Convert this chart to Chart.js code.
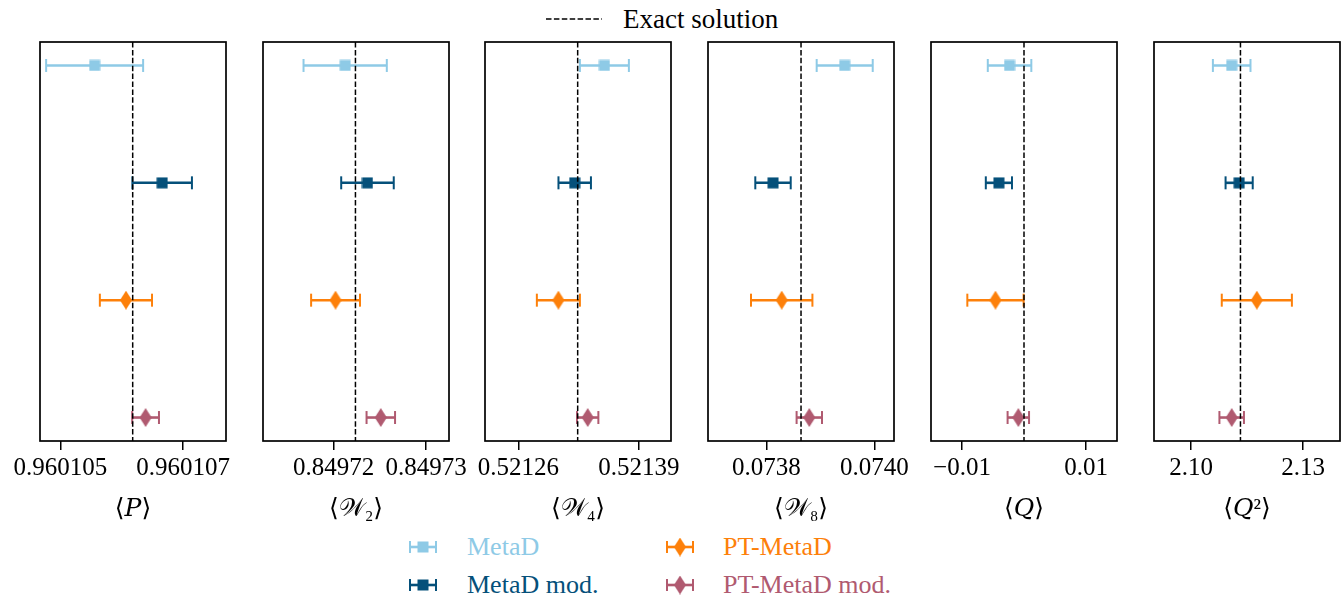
<!DOCTYPE html>
<html>
<head>
<meta charset="utf-8">
<script src="https://cdn.jsdelivr.net/npm/chart.js@4.4.0/dist/chart.umd.min.js"></script>
<style>
  html, body { margin: 0; padding: 0; background: #fff; }
  body { width: 1343px; height: 595px; position: relative; overflow: hidden; font-family: 'Liberation Serif', 'DejaVu Serif', serif; }
  .panel { position: absolute; top: 0; }
  .leg { position: absolute; height: 30px; line-height: 30px; font-size: 26px; white-space: nowrap; }
  .sym { position: absolute; }
</style>
</head>
<body>
<canvas id="exactSym" class="sym" width="60" height="10" style="left:544px;top:14px"></canvas>
<div class="leg" style="left:623px;top:4px;color:#000;font-size:27px">Exact solution</div>
<div id="legendBox"></div>
<script>
// ---------- data ----------
const seriesNames = ['MetaD', 'MetaD mod.', 'PT-MetaD', 'PT-MetaD mod.'];
const seriesColors = ['#8ecae6', '#05507a', '#fd800a', '#b05a70'];
const seriesMarkers = ['square', 'square', 'diamond', 'diamond'];

const observables = ['⟨𝑃⟩', '⟨𝒲₂⟩', '⟨𝒲₄⟩', '⟨𝒲₈⟩', '⟨𝑄⟩', '⟨𝑄²⟩'];
const exactValues = [0.96010618, 0.84972237, 0.5213239, 0.0738643, 0.0, 2.11321];

const metaDValues      = [0.96010556, 0.84972126, 0.5213527, 0.0739452, -0.00233, 2.11086];
const metaDErrors      = [0.00000079, 0.0000045, 0.0000264, 0.0000519, 0.00351, 0.00504];
const metaDModValues   = [0.96010666, 0.84972367, 0.5213207, 0.0738124, -0.00405, 2.11286];
const metaDModErrors   = [0.000000485, 0.00000284, 0.0000175, 0.0000328, 0.00211, 0.00364];
const ptMetaDValues    = [0.96010607, 0.84972022, 0.5213031, 0.0738285, -0.0046, 2.1176];
const ptMetaDErrors    = [0.000000425, 0.00000264, 0.0000232, 0.0000569, 0.00454, 0.0094];
const ptMetaDModValues = [0.96010639, 0.84972511, 0.5213347, 0.0738796, -0.000916, 2.11086];
const ptMetaDModErrors = [0.000000218, 0.00000154, 0.0000115, 0.0000235, 0.00173, 0.00329];

const tickValues = [[0.960105, 0.960107], [0.84972, 0.84973], [0.52126, 0.52139], [0.0738, 0.0740], [-0.01, 0.01], [2.10, 2.13]];
const tickLabels = [['0.960105', '0.960107'], ['0.84972', '0.84973'], ['0.52126', '0.52139'], ['0.0738', '0.0740'], ['−0.01', '0.01'], ['2.10', '2.13']];
const axisMin = [0.96010467, 0.84971238, 0.521224, 0.073692, -0.015, 2.09003];
const axisMax = [0.9601077, 0.84973248, 0.5214245, 0.0740365, 0.015, 2.1399];

const seriesValues = [metaDValues, metaDModValues, ptMetaDValues, ptMetaDModValues];
const seriesErrors = [metaDErrors, metaDModErrors, ptMetaDErrors, ptMetaDModErrors];

// ---------- layout ----------
const panelLefts = [40, 263, 485, 708, 931, 1154];
const panelWidth = 186;
const panelTop = 42, panelBottom = 441;
const sidePad = 60;
const canvasH = 528;

// ---------- marker images ----------
function makeMarker(color, kind) {
  const c = document.createElement('canvas');
  if (kind === 'square') {
    c.width = 12; c.height = 12;
    const g = c.getContext('2d');
    g.fillStyle = color; g.fillRect(0.5, 0.5, 11, 11);
  } else {
    c.width = 12; c.height = 19;
    const g = c.getContext('2d');
    g.fillStyle = color;
    g.beginPath(); g.moveTo(6, 0); g.lineTo(12, 9.5); g.lineTo(6, 19); g.lineTo(0, 9.5); g.closePath(); g.fill();
  }
  return c;
}
const markerImgs = seriesColors.map((c, i) => makeMarker(c, seriesMarkers[i]));

const framePlugin = {
  id: 'frame',
  afterDraw(chart) {
    const a = chart.chartArea, g = chart.ctx;
    g.save(); g.strokeStyle = '#000'; g.lineWidth = 1.7;
    g.strokeRect(a.left, a.top, a.right - a.left, a.bottom - a.top);
    g.restore();
  }
};

observables.forEach((obs, p) => {
  const cv = document.createElement('canvas');
  cv.className = 'panel';
  cv.width = panelWidth + 2 * sidePad;
  cv.height = canvasH;
  cv.style.left = (panelLefts[p] - sidePad) + 'px';
  document.body.appendChild(cv);

  const datasets = [];
  // exact solution dashed line (first => drawn on top)
  datasets.push({
    data: [{ x: exactValues[p], y: -0.2 }, { x: exactValues[p], y: 3.2 }],
    showLine: true, borderColor: '#000', borderWidth: 1.5, borderDash: [5.5, 2.4],
    pointRadius: 0
  });
  // markers
  seriesNames.forEach((n, s) => {
    datasets.push({
      data: [{ x: seriesValues[s][p], y: s }],
      pointStyle: markerImgs[s], pointRadius: 6, showLine: false
    });
  });
  // error bars with caps
  seriesNames.forEach((n, s) => {
    const v = seriesValues[s][p], e = seriesErrors[s][p];
    datasets.push({
      data: [{ x: v - e, y: s }, { x: v + e, y: s }],
      showLine: true, borderColor: seriesColors[s], borderWidth: 2.6,
      pointStyle: 'line', pointRotation: 90, pointRadius: 6.5,
      pointBorderColor: seriesColors[s], pointBorderWidth: 2
    });
  });

  new Chart(cv, {
    type: 'scatter',
    data: { datasets },
    plugins: [framePlugin],
    options: {
      responsive: false, animation: false, devicePixelRatio: 1,
      layout: { padding: { left: sidePad, right: sidePad, top: panelTop, bottom: 0 } },
      plugins: { legend: { display: false }, tooltip: { enabled: false } },
      scales: {
        y: { type: 'linear', min: -0.2, max: 3.2, reverse: true, display: false },
        x: {
          type: 'linear', min: axisMin[p], max: axisMax[p],
          afterFit: (sc) => { sc.height = canvasH - panelBottom; },
          afterBuildTicks: (sc) => { sc.ticks = tickValues[p].map(v => ({ value: v })); },
          border: { display: false },
          grid: { display: true, drawOnChartArea: false, drawTicks: true, tickLength: 9, color: '#000', lineWidth: 1.5 },
          ticks: {
            autoSkip: false, maxRotation: 0, color: '#000', padding: 3,
            font: { family: 'Liberation Serif', size: 25 },
            callback: (val, idx) => tickLabels[p][idx]
          },
          title: {
            display: true, text: obs, color: '#000',
            font: { family: "'Liberation Serif', 'DejaVu Serif', 'DejaVu Sans'", size: 25 },
            padding: { top: 4, bottom: 4 }
          }
        }
      }
    }
  });
});

// ---------- legends ----------
(function () {
  const g = document.getElementById('exactSym').getContext('2d');
  g.strokeStyle = '#000'; g.lineWidth = 1.5; g.setLineDash([5.5, 2.4]);
  g.beginPath(); g.moveTo(2, 5); g.lineTo(58, 5); g.stroke();
})();

const legendCols = [[408, 467], [408, 467], [665, 723], [665, 723]];
const legendRowY = [547, 585, 547, 585];
const box = document.getElementById('legendBox');
seriesNames.forEach((n, s) => {
  const sc = document.createElement('canvas');
  sc.className = 'sym'; sc.width = 30; sc.height = 20;
  sc.style.left = legendCols[s][0] + 'px'; sc.style.top = (legendRowY[s] - 10) + 'px';
  const g = sc.getContext('2d');
  g.strokeStyle = seriesColors[s]; g.lineWidth = 2.6;
  g.beginPath(); g.moveTo(2, 10); g.lineTo(28, 10); g.stroke();
  g.lineWidth = 2;
  g.beginPath(); g.moveTo(2, 4); g.lineTo(2, 16); g.moveTo(28, 4); g.lineTo(28, 16); g.stroke();
  const m = markerImgs[s];
  g.drawImage(m, 15 - m.width / 2, 10 - m.height / 2);
  box.appendChild(sc);
  const t = document.createElement('div');
  t.className = 'leg'; t.textContent = n; t.style.color = seriesColors[s];
  t.style.left = legendCols[s][1] + 'px'; t.style.top = (legendRowY[s] - 15) + 'px';
  box.appendChild(t);
});
</script>
</body>
</html>
